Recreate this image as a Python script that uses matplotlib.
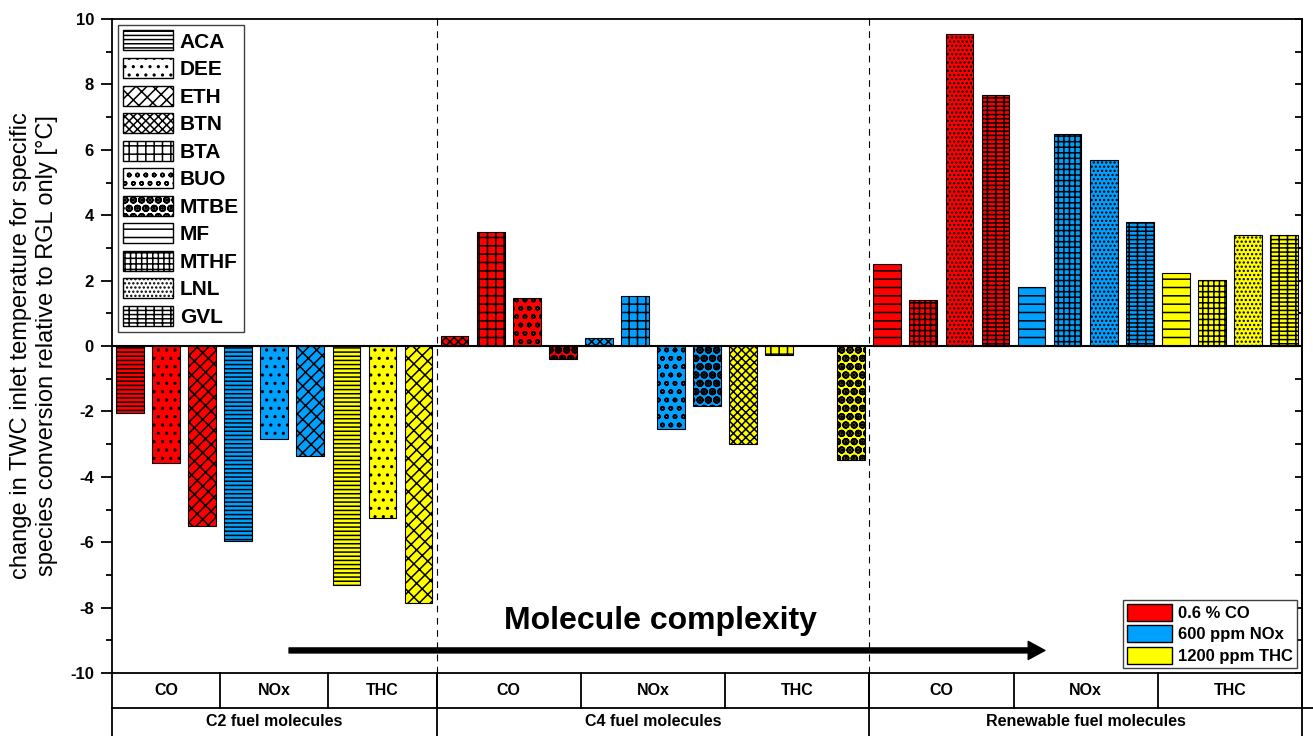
import matplotlib
matplotlib.use('Agg')
import matplotlib.pyplot as plt
import numpy as np
from matplotlib.patches import Patch
from matplotlib.ticker import MultipleLocator

plt.rcParams['font.family'] = ['Liberation Sans', 'DejaVu Sans']
plt.rcParams['font.weight'] = 'bold'
plt.rcParams['axes.unicode_minus'] = False
plt.rcParams['hatch.linewidth'] = 1.1

# categories
sections = ['C2 fuel molecules', 'C4 fuel molecules', 'Renewable fuel molecules']
species = ['CO', 'NOx', 'THC']
species_labels = ['0.6 % CO', '600 ppm NOx', '1200 ppm THC']
species_colors = ['#FF0000', '#00A0FF', '#FFFF00']

c2_molecules = ['ACA', 'DEE', 'ETH']
c4_molecules = ['BTN', 'BTA', 'BUO', 'MTBE']
ren_molecules = ['MF', 'MTHF', 'LNL', 'GVL']

# change in TWC inlet temperature [°C]
c2_co = [-2.05, -3.58, -5.50]
c2_nox = [-5.95, -2.85, -3.36]
c2_thc = [-7.30, -5.26, -7.86]
c4_co = [0.32, 3.48, 1.47, -0.41]
c4_nox = [0.25, 1.52, -2.53, -1.82]
c4_thc = [-3.01, -0.29, np.nan, -3.49]
ren_co = [2.51, 1.40, 9.55, 7.67]
ren_nox = [1.80, 6.47, 5.68, 3.80]
ren_thc = [2.24, 2.03, 3.39, 3.39]

molecules = [c2_molecules, c4_molecules, ren_molecules]
values = [[c2_co, c2_nox, c2_thc], [c4_co, c4_nox, c4_thc], [ren_co, ren_nox, ren_thc]]

# hatch per molecule
hatches = {'ACA': '----', 'DEE': '..', 'ETH': '///\\\\', 'BTN': 'xxxx',
           'BTA': '++', 'BUO': 'oo', 'MTBE': 'OO..', 'MF': '--',
           'MTHF': '+++', 'LNL': '....', 'GVL': '----||'}

fig = plt.figure(figsize=(13.13, 7.36), dpi=100)
ax = fig.add_axes([112 / 1313, 1 - 673 / 736, 1190 / 1313, 654 / 736])

x = 0
groups = []
secs = []
for sec, mols, vals in zip(sections, molecules, values):
    sec_start = x
    for sp, color, v in zip(species, species_colors, vals):
        g_start = x
        for mol, val in zip(mols, v):
            if not np.isnan(val):
                ax.bar(x, val, width=0.77, color=color, edgecolor='black',
                       linewidth=0.8, hatch=hatches[mol])
            x += 1
        groups.append((g_start - 0.5, x - 0.5, sp))
    secs.append((sec_start - 0.5, x - 0.5, sec))

ax.set_xlim(-0.5, x - 0.5)
ax.set_ylim(-10, 10)
ax.axhline(0, color='black', lw=1.5, zorder=3)
ax.set_xticks([])

ax.yaxis.set_major_locator(MultipleLocator(2))
ax.yaxis.set_minor_locator(MultipleLocator(1))
ax.tick_params(axis='y', which='major', direction='out', length=8, width=1.3,
               labelsize=12, pad=5)
ax.tick_params(axis='y', which='minor', direction='out', length=4, width=1.3)
for s in ax.spines.values():
    s.set_linewidth(1.3)

right = ax.secondary_yaxis('right')
right.yaxis.set_major_locator(MultipleLocator(1))
right.tick_params(direction='in', length=5, width=1.3, labelright=False)
right.spines['right'].set_linewidth(1.3)

# category rows under the axes
tr = ax.get_xaxis_transform()
r1 = -35 / 654
r2 = -0.1
ax.plot([-0.5, x - 0.2], [r1, r1], color='black', lw=1.3, transform=tr, clip_on=False)
for xa, xb, sp in groups:
    ax.plot([xb, xb], [0, r1], color='black', lw=1.3, transform=tr, clip_on=False)
    ax.text((xa + xb) / 2, r1 / 2, sp, transform=tr, ha='center', va='center', fontsize=11.5)
for xa, xb, sec in secs:
    ax.plot([xb, xb], [0, r2], color='black', lw=1.3, transform=tr, clip_on=False)
    ax.text((xa + xb) / 2, (r1 + r2 * 0.96) / 2, sec, transform=tr, ha='center', va='center',
            fontsize=11.5)
    if xb < x - 0.5:
        ax.axvline(xb, color='black', lw=0.8, ls=(0, (6, 5)))
ax.plot([-0.5, -0.5], [0, r2], color='black', lw=1.3, transform=tr, clip_on=False)

fig.text(34 / 1313, 1 - 346 / 736,
         'change in TWC inlet temperature for specific\nspecies conversion relative to RGL only [°C]',
         rotation=90, ha='center', va='center', fontsize=17, fontweight='normal',
         linespacing=1.2, multialignment='center')

# molecule legend
all_mols = c2_molecules + c4_molecules + ren_molecules
leg1 = ax.legend(handles=[Patch(facecolor='white', edgecolor='black', hatch=hatches[m], label=m)
                          for m in all_mols],
                 loc='upper left', fontsize=15, handlelength=2.4, handleheight=1.1,
                 labelspacing=0.31, handletextpad=0.3, borderpad=0.25, borderaxespad=0.3,
                 fancybox=False, edgecolor='#404040', framealpha=1)
leg1.get_frame().set_linewidth(1.0)
ax.add_artist(leg1)

leg2 = ax.legend(handles=[Patch(facecolor=c, edgecolor='black', label=l)
                          for c, l in zip(species_colors, species_labels)],
                 loc='lower right', fontsize=12, handlelength=2.7, handleheight=1.2,
                 labelspacing=0.25, handletextpad=0.35, borderpad=0.25, borderaxespad=0.3,
                 fancybox=False, edgecolor='#404040', framealpha=1)
leg2.get_frame().set_linewidth(1.0)

ax.text(14.72, -8.42, 'Molecule complexity', ha='center', va='center', fontsize=23,
        bbox=dict(facecolor='white', edgecolor='none', pad=2))
ax.annotate('', xy=(25.37, -9.31), xytext=(4.41, -9.31),
            arrowprops=dict(arrowstyle='simple,head_length=0.6,head_width=0.65,tail_width=0.18',
                            mutation_scale=20, color='black', shrinkA=0, shrinkB=0))

fig.savefig('out.png', dpi=100)
